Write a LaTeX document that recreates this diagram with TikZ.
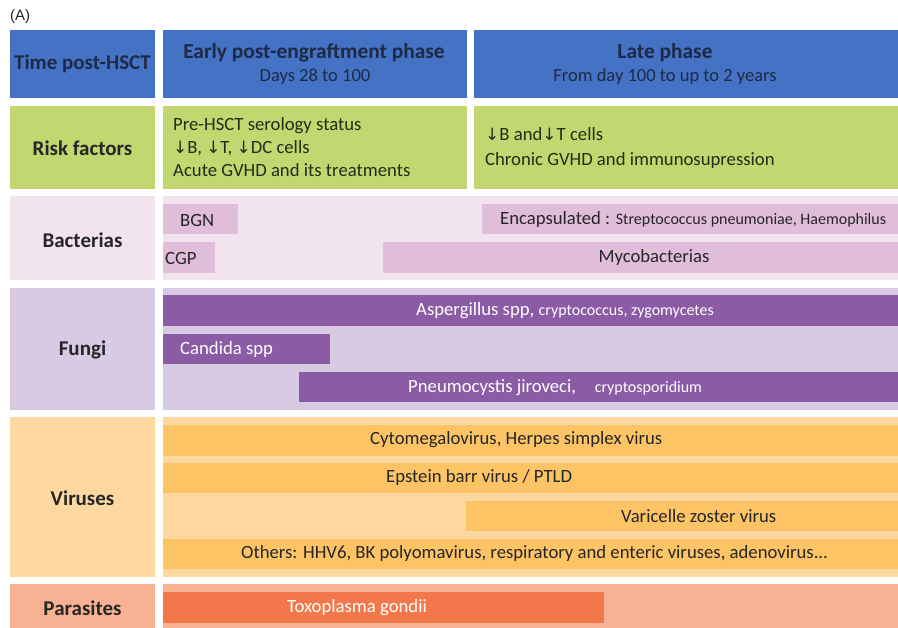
\documentclass[tikz,border=0pt]{standalone}
\usepackage{fontspec}
\setmainfont{Carlito}
\newfontfamily\symf{DejaVu Sans}
\newfontfamily\tagf{Liberation Sans}
\newcommand\dn{{\symf\fontsize{17}{17}\selectfont ↓}}
\definecolor{hblue}{HTML}{4472C4}
\definecolor{htext}{HTML}{1E2A45}
\definecolor{rgreen}{HTML}{C2D76F}
\definecolor{rtext}{HTML}{262B18}
\definecolor{bbg}{HTML}{F2E4EF}
\definecolor{bbar}{HTML}{E0BDD9}
\definecolor{fbg}{HTML}{D8CAE2}
\definecolor{fbar}{HTML}{8B5BA5}
\definecolor{vbg}{HTML}{FDD8A0}
\definecolor{vbar}{HTML}{FDC466}
\definecolor{pbg}{HTML}{F8B293}
\definecolor{pbar}{HTML}{F2784B}
\definecolor{dtext}{HTML}{262626}
\tikzset{
  rowlbl/.style={font=\fontsize{21}{24}\selectfont\bfseries, text=dtext, inner sep=0pt},
  hdbold/.style={font=\fontsize{21.4}{24}\selectfont\bfseries, text=htext, inner sep=0pt},
  hdsub/.style={font=\fontsize{18.5}{21}\selectfont, text=htext, inner sep=0pt},
  rtxt/.style={font=\fontsize{18.7}{22}\selectfont, text=rtext, inner sep=0pt, align=left},
  bartxt/.style={font=\fontsize{18.7}{21}\selectfont, text=dtext, inner sep=0pt},
  wtxt/.style={font=\fontsize{18.7}{21}\selectfont, text=white, inner sep=0pt},
}
\newcommand\sm[1]{{\fontsize{16}{18}\selectfont #1}}
\begin{document}
\begin{tikzpicture}[x=1pt,y=-1pt]
\useasboundingbox (0,0) rectangle (898,628);
\fill[white] (0,0) rectangle (898,628);
\node[font=\tagf\fontsize{15}{17}\selectfont, text=dtext, anchor=west, inner sep=0pt] (tagA) at (10,17) {(A)};
% header row
\fill[hblue] (10,30) rectangle (155,98);
\fill[hblue] (163,30) rectangle (467,98);
\fill[hblue] (474,30) rectangle (898,98);
\node[rowlbl, text=htext] (time) at (82.5,64) {Time post-HSCT};
\node[hdbold] (early) at (314,53) {Early post-engraftment phase};
\node[hdsub] (earlyd) at (315,77) {Days 28 to 100};
\node[hdbold] (late) at (665,53) {Late phase};
\node[hdsub] (lated) at (665,77) {From day 100 to up to 2 years};
% risk factors
\fill[rgreen] (10,106) rectangle (155,189);
\fill[rgreen] (163,106) rectangle (467,189);
\fill[rgreen] (474,106) rectangle (898,189);
\node[rowlbl] (risk) at (82.5,148) {Risk factors};
\node[rtxt, anchor=west] (r1) at (173,126) {Pre-HSCT serology status};
\node[rtxt, anchor=west] (r2) at (173,148) {\dn B, \dn T, \dn DC cells};
\node[rtxt, anchor=west] (r3) at (173,170) {Acute GVHD and its treatments};
\node[rtxt, anchor=west] (r4) at (485,134) {\dn B and\dn T cells};
\node[rtxt, anchor=west] (r5) at (485,161) {Chronic GVHD and immunosupression};
% bacterias
\fill[bbg] (10,196) rectangle (155,280);
\fill[bbg] (163,196) rectangle (898,280);
\node[rowlbl] (bact) at (82.5,240) {Bacterias};
\fill[bbar] (163,204) rectangle (238,234);
\fill[bbar] (163,242) rectangle (215,273);
\fill[bbar] (482,204) rectangle (898,234);
\fill[bbar] (383,242) rectangle (898,273);
\node[bartxt, anchor=west] (bgn) at (180,220) {BGN};
\node[bartxt, anchor=west] (cgp) at (165,258) {CGP};
\node[bartxt, anchor=west] (enc) at (500,220) {Encapsulated : \sm{Streptococcus pneumoniae, Haemophilus}};
\node[bartxt] (myco) at (654,258) {Mycobacterias};
% fungi
\fill[fbg] (10,288) rectangle (155,410);
\fill[fbg] (163,288) rectangle (898,410);
\node[rowlbl] (fungi) at (82.5,350) {Fungi};
\fill[fbar] (163,295) rectangle (898,326);
\fill[fbar] (163,334) rectangle (330,364);
\fill[fbar] (299,372) rectangle (898,402);
\node[wtxt, anchor=west] (asp) at (416,311) {Aspergillus spp, \sm{cryptococcus, zygomycetes}};
\node[wtxt, anchor=west] (cand) at (180,350) {Candida spp};
\node[wtxt, anchor=west] (pneu) at (408,388) {Pneumocystis jiroveci,\quad\sm{cryptosporidium}};
% viruses
\fill[vbg] (10,417) rectangle (155,577);
\fill[vbg] (163,417) rectangle (898,577);
\node[rowlbl] (vir) at (82.5,498) {Viruses};
\fill[vbar] (163,425) rectangle (898,456);
\fill[vbar] (163,463) rectangle (898,493);
\fill[vbar] (466,501) rectangle (898,531);
\fill[vbar] (163,539) rectangle (898,569);
\node[bartxt, anchor=west] (cmv) at (370,440) {Cytomegalovirus, Herpes simplex virus};
\node[bartxt, anchor=west] (ebv) at (386,478) {Epstein barr virus / PTLD};
\node[bartxt, anchor=west] (vzv) at (621,516) {Varicelle zoster virus};
\node[bartxt, anchor=west] (oth) at (241,554) {Others: HHV6, BK polyomavirus, respiratory and enteric viruses, adenovirus...};
% parasites
\fill[pbg] (10,584) rectangle (155,628);
\fill[pbg] (163,584) rectangle (898,628);
\node[rowlbl] (para) at (82.5,608) {Parasites};
\fill[pbar] (163,592) rectangle (604,623);
\node[wtxt, anchor=west] (toxo) at (287,608) {Toxoplasma gondii};
\end{tikzpicture}
\end{document}
